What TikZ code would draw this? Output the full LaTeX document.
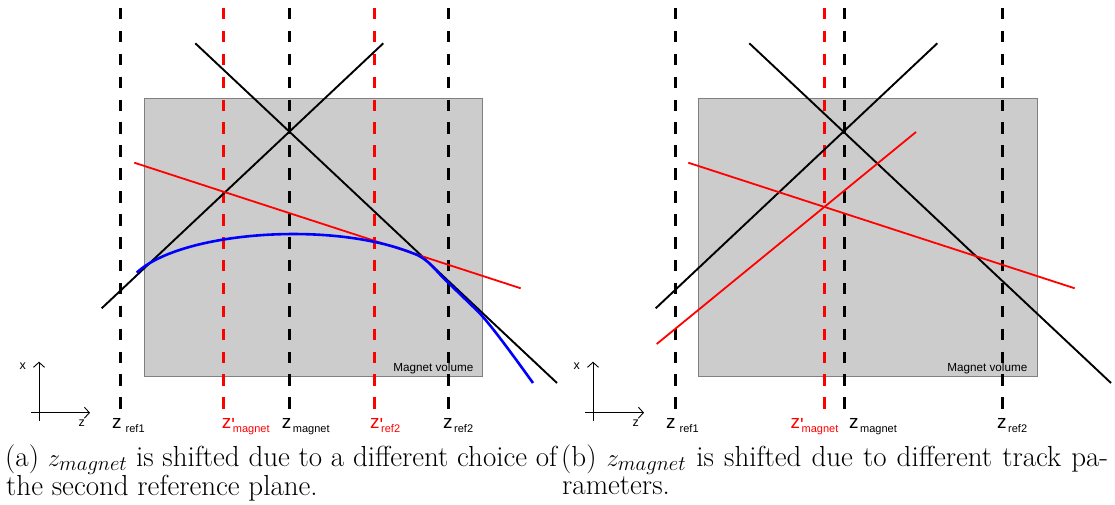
\documentclass[tikz,border=0pt]{standalone}
\usepackage{fontspec}
\newfontfamily\lsans{Liberation Sans}[Ligatures=TeXOff]
\usetikzlibrary{arrows.meta}
\definecolor{boxfill}{HTML}{CCCCCC}
\definecolor{boxedge}{HTML}{808080}
\newcommand\zlab[3][1.5pt]{{\fontsize{19}{19}\selectfont z}\hspace{#1}{\fontsize{19}{19}\selectfont\llap{\rlap{\raisebox{-3.5pt}{#2}}\hspace{#1}}}{\fontsize{11}{11}\selectfont\raisebox{-4pt}{#3}}}
\begin{document}
\begin{tikzpicture}[x=1pt,y=-1pt,
  refline/.style={line width=3pt, dash pattern=on 11.5pt off 11.4pt},
  track/.style={line width=1.9pt},
  rtrack/.style={line width=1.8pt, red},
  btrack/.style={line width=2.6pt, blue},
  magnet/.style={draw=boxedge, fill=boxfill, line width=1.1pt},
  zl/.style={inner sep=0pt, anchor=base west, font=\lsans},
  mvl/.style={inner sep=0pt, anchor=base east, font=\lsans\fontsize{11.7}{12}\selectfont},
  axl/.style={inner sep=0pt, font=\lsans\fontsize{12.5}{12}\selectfont},
  axis/.style={line width=0.9pt, -{Straight Barb[length=5pt, width=11pt]}},
  captext/.style={inner sep=0pt, anchor=base west, font=\fontsize{29}{28}\selectfont}
]
\useasboundingbox (0,0) rectangle (1115,505);

% ---------------- magnet boxes ----------------
\node[magnet, minimum width=338.3pt, minimum height=277.7pt, anchor=north west, inner sep=0pt] (boxa) at (144,98.3) {};
\node[mvl] (mva) at (473.5,371) {Magnet volume};
\node[magnet, minimum width=338.2pt, minimum height=277.7pt, anchor=north west, inner sep=0pt] (boxb) at (698.3,98.3) {};
\node[mvl] (mvb) at (1027.5,371) {Magnet volume};

% ---------------- reference planes ----------------
\foreach \n/\xx/\cc in {a1/120.7/black, a2/223.3/red, a3/289.3/black, a4/374/red, a5/448.3/black,
                        b1/675/black, b2/824.3/red, b3/844/black, b4/1002.7/black}{
  \coordinate (t\n) at (\xx,8);
  \coordinate (e\n) at (\xx,409);
  \draw[refline, \cc] (t\n) -- (e\n);
}

% ---------------- panel (a) tracks ----------------
\coordinate (ra0) at (101.7,308.3);
\coordinate (ra1) at (383.3,43.3);
\coordinate (fa0) at (195.3,43.3);
\coordinate (fa1) at (557,383);
\coordinate (pa0) at (134.3,162.7);
\coordinate (pa1) at (520.7,288.3);
\draw[track] (ra0) -- (ra1);
\draw[track] (fa0) -- (fa1);
\draw[rtrack] (pa0) -- (pa1);

\coordinate (ba0) at (136.7,272.7);
\coordinate (ba1) at (413,253.3);
\coordinate (ba2) at (446,280.5);
\coordinate (ba3) at (478.5,312);
\coordinate (ba4) at (533,383);
\draw[btrack] (ba0) .. controls (180,232) and (330,220) .. (ba1)
                    .. controls (428,258.3) and (435,270.2) .. (ba2)
                    -- (ba3)
                    .. controls (490,324) and (510,351) .. (ba4);

% axes (a)
\coordinate (xa0) at (39,421);
\coordinate (xa1) at (39,361.7);
\coordinate (za0) at (31,412.7);
\coordinate (za1) at (90,412.7);
\draw[axis] (xa0) -- (xa1);
\draw[axis] (za0) -- (za1);
\node[axl] (xla) at (22.7,365.7) {x};
\node[axl] (zla) at (81.7,423.3) {z};

% labels (a)
\node[zl] (la1) at (112,428) {\zlab[4pt]{}{ref1}};
\node[zl, text=red] (la2) at (221.7,428) {\zlab{'}{magnet}};
\node[zl] (la3) at (281.7,428) {\zlab{}{magnet}};
\node[zl, text=red] (la4) at (370,428) {\zlab{'}{ref2}};
\node[zl] (la5) at (443,428) {\zlab{}{ref2}};

% ---------------- panel (b) tracks ----------------
\coordinate (rb0) at (655.7,308.3);
\coordinate (rb1) at (937.3,43.3);
\coordinate (fb0) at (749.3,43.3);
\coordinate (fb1) at (1111,383);
\coordinate (pb0) at (688.3,162.7);
\coordinate (pb1) at (1074.7,288.3);
\coordinate (qb0) at (656.7,344);
\coordinate (qb1) at (916,132);
\draw[track] (rb0) -- (rb1);
\draw[track] (fb0) -- (fb1);
\draw[rtrack] (pb0) -- (pb1);
\draw[rtrack] (qb0) -- (qb1);

% axes (b)
\coordinate (xb0) at (593,421);
\coordinate (xb1) at (593,361.7);
\coordinate (zb0) at (585,412.7);
\coordinate (zb1) at (644,412.7);
\draw[axis] (xb0) -- (xb1);
\draw[axis] (zb0) -- (zb1);
\node[axl] (xlb) at (576.7,365.7) {x};
\node[axl] (zlb) at (635.7,423.3) {z};

% labels (b)
\node[zl] (lb1) at (666,428) {\zlab[4pt]{}{ref1}};
\node[zl, text=red] (lb2) at (790.5,428) {\zlab{'}{magnet}};
\node[zl] (lb3) at (849,428) {\zlab{}{magnet}};
\node[zl] (lb4) at (997,428) {\zlab{}{ref2}};

% ---------------- captions ----------------
\node[captext] (capa) at (5,466) {\parbox[t]{552pt}{\baselineskip=28pt\makebox[552pt][s]{(a) $z_{magnet}$ is shifted due to a different choice of}\\\hspace*{1pt}the second reference plane.}};
\node[captext] (capb) at (561,466) {\parbox[t]{547pt}{\baselineskip=28pt\makebox[547pt][s]{(b) $z_{magnet}$ is shifted due to different track pa-}\\\hspace*{1pt}rameters.}};
\end{tikzpicture}
\end{document}
